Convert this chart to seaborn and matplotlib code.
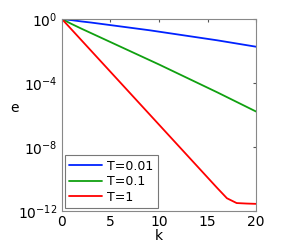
import numpy as np
import pandas as pd
import matplotlib
matplotlib.use('Agg')
import matplotlib.pyplot as plt
import seaborn as sns

k = list(range(21))
# log10 of the error
log_e_001 = [0, -0.07, -0.15, -0.22, -0.30, -0.38, -0.46, -0.54, -0.62, -0.70, -0.79,
             -0.88, -0.97, -1.06, -1.15, -1.24, -1.33, -1.43, -1.53, -1.63, -1.73]
log_e_01 = [0, -0.31, -0.60, -0.88, -1.16, -1.44, -1.72, -2.00, -2.28, -2.56, -2.84,
            -3.13, -3.42, -3.71, -4.00, -4.29, -4.58, -4.88, -5.18, -5.48, -5.78]
log_e_1 = [0, -0.66, -1.32, -1.98, -2.64, -3.30, -3.96, -4.62, -5.28, -5.94, -6.60,
           -7.26, -7.92, -8.58, -9.24, -9.90, -10.56, -11.20, -11.50, -11.53, -11.55]
labels = ["T=0.01", "T=0.1", "T=1"]
colors = ["#0022ff", "#10a010", "#ff0000"]

df = pd.concat([
    pd.DataFrame({"k": k, "e": 10.0 ** np.array(v), "T": lab})
    for v, lab in zip([log_e_001, log_e_01, log_e_1], labels)
])

sns.set_style("white")
plt.rcParams['font.family'] = ['DejaVu Sans']
plt.rcParams['text.color'] = 'black'
plt.rcParams['axes.labelcolor'] = 'black'

fig = plt.figure(figsize=(2.95, 2.44), dpi=100)
ax = fig.add_axes([0.21, 0.135, 0.658, 0.787])
sns.lineplot(data=df, x="k", y="e", hue="T", palette=colors, linewidth=1.3, ax=ax)
ax.set_yscale("log")
ax.set_xlim(0, 20)
ax.set_ylim(1e-12, 1)
ax.set_xticks([0, 5, 10, 15, 20])
ax.set_yticks([1, 1e-4, 1e-8, 1e-12])
ax.yaxis.set_minor_locator(matplotlib.ticker.NullLocator())
ax.tick_params(direction="in", length=2, labelsize=10, top=True, right=True,
               color="#555555", labelcolor="black", pad=3)
for s in ax.spines.values():
    s.set_color("#888888")
    s.set_linewidth(0.8)
ax.set_xlabel("k", fontsize=10, labelpad=0)
ax.set_ylabel("e", fontsize=10, rotation=0)
ax.yaxis.set_label_coords(-0.245, 0.5)
leg = ax.legend(loc="lower left", fontsize=9, frameon=True, fancybox=False,
                handlelength=2.6, borderpad=0.35, labelspacing=0.2, handletextpad=0.4,
                borderaxespad=0.25)
leg.get_frame().set_edgecolor("#555555")
leg.get_frame().set_linewidth(0.8)

fig.savefig("out.png", dpi=100)
